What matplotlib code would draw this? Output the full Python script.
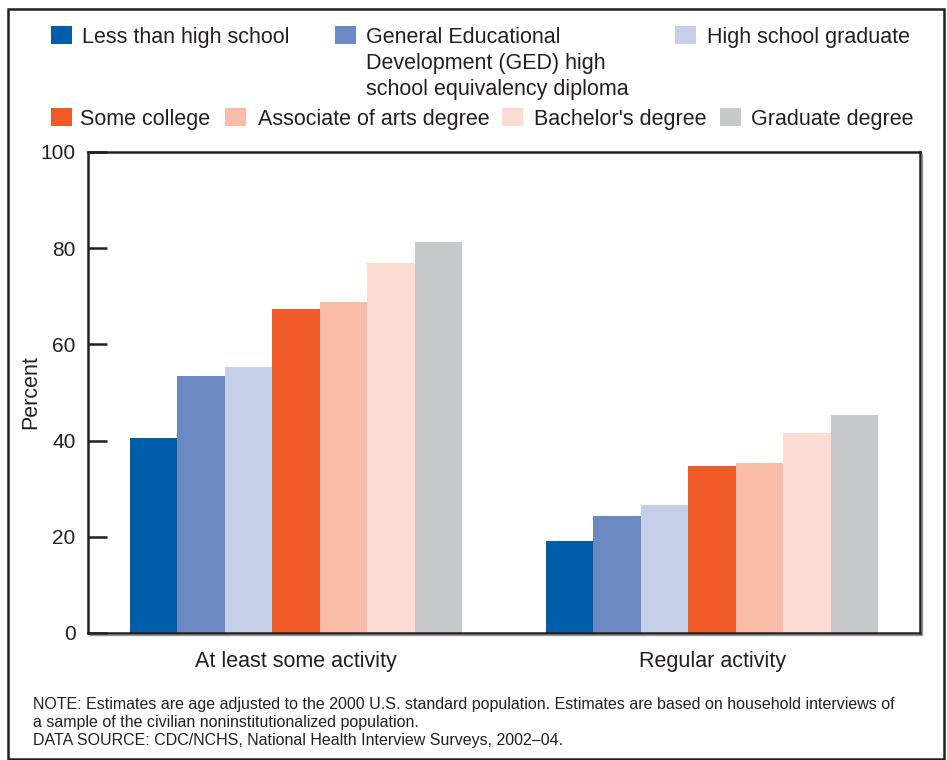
import numpy as np
import matplotlib
matplotlib.use('Agg')
import matplotlib.pyplot as plt
from matplotlib.patches import Rectangle
from matplotlib.lines import Line2D

plt.rcParams['font.family'] = ['Liberation Sans', 'DejaVu Sans']

categories = ['At least some activity', 'Regular activity']
education = ['Less than high school',
             'General Educational\nDevelopment (GED) high\nschool equivalency diploma',
             'High school graduate', 'Some college', 'Associate of arts degree',
             "Bachelor's degree", 'Graduate degree']
less_than_hs = [40.5, 19.1]
ged = [53.4, 24.3]
hs_grad = [55.4, 26.6]
some_college = [67.3, 34.7]
associate = [68.9, 35.3]
bachelor = [77.0, 41.5]
graduate = [81.2, 45.3]
series = [less_than_hs, ged, hs_grad, some_college, associate, bachelor, graduate]
colors = ['#005DAA', '#6B8AC3', '#C5CFE7', '#F05A28', '#F9BCA6', '#FBDDD3', '#C7C8CA']
yticks = [0, 20, 40, 60, 80, 100]

W, H = 947, 760
fig = plt.figure(figsize=(W / 100, H / 100), dpi=100)
dark = '#231F20'

def fx(px):
    return px / W

def fy(py):
    return 1 - py / H

ax = fig.add_axes([fx(88), fy(633), fx(920) - fx(88), fy(152) - fy(633)])

x = np.arange(len(categories))
n = len(series)
w = 0.8 / n
for i, vals in enumerate(series):
    ax.bar(x - 0.4 + w * (i + 0.5), vals, width=w, color=colors[i], linewidth=0)

ax.set_xlim(-0.5, 1.5)
ax.set_ylim(0, 100)
ax.set_yticks(yticks)
ax.set_xticks(x)
ax.set_xticklabels(categories, fontsize=15.5, color=dark)
ax.tick_params(axis='x', length=0, pad=13)
ax.tick_params(axis='y', direction='in', length=14, width=1.8, color=dark,
               labelsize=15, labelcolor=dark, pad=9)
for s in ax.spines.values():
    s.set_linewidth(1.8)
    s.set_color(dark)
ax.set_ylabel('Percent', fontsize=15.5, color=dark)
ax.yaxis.set_label_coords(-0.056, 0.5)

# shadow on the right and bottom of the plot frame
fig.add_artist(Line2D([fx(922), fx(922)], [fy(634), fy(154)], color='#9a9a9a', lw=1))
fig.add_artist(Line2D([fx(90), fx(922)], [fy(635), fy(635)], color='#9a9a9a', lw=1))

# outer border
fig.add_artist(Rectangle((fx(8), fy(759)), fx(944) - fx(8), fy(9) - fy(759),
                         transform=fig.transFigure, fill=False, edgecolor=dark, lw=1.8))

# legend
sq_x = [51, 335, 675, 51, 225, 502, 720]
txt_x = [82, 366, 707, 80, 258, 534, 751]
row_y = [26, 26, 26, 108, 108, 108, 108]
for i, lab in enumerate(education):
    fig.add_artist(Rectangle((fx(sq_x[i]), fy(row_y[i] + 18)), fx(21), 18 / H,
                             transform=fig.transFigure, color=colors[i], lw=0))
    fig.text(fx(txt_x[i]), fy(row_y[i] + 1), lab, fontsize=15.5, color=dark,
             ha='left', va='top', linespacing=1.3)

notes = ['NOTE: Estimates are age adjusted to the 2000 U.S. standard population. '
         'Estimates are based on household interviews of',
         'a sample of the civilian noninstitutionalized population.',
         'DATA SOURCE: CDC/NCHS, National Health Interview Surveys, 2002\u201304.']
note_y = [704, 722, 741]
for t, yy in zip(notes, note_y):
    fig.text(fx(33), fy(yy), t, fontsize=11.55, color=dark, ha='left', va='center')

fig.savefig('out.png', dpi=100)
